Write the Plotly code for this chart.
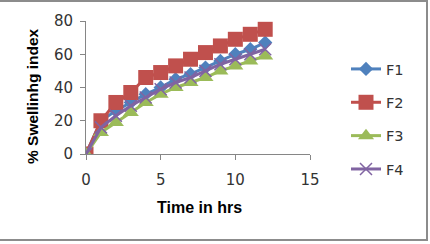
import plotly.graph_objects as go

time_hrs = [0, 1, 2, 3, 4, 5, 6, 7, 8, 9, 10, 11, 12]
f1 = [0, 20, 26, 31, 36, 40, 45, 48, 52, 56, 60, 63, 67]
f2 = [0, 20, 31, 37, 46, 49, 53, 57, 61, 65, 69, 72, 75]
f3 = [0, 13, 19, 25, 31, 36, 40, 43, 46, 50, 53, 56, 59]
f4 = [0, 16, 23, 29, 34, 39, 43, 46, 50, 54, 57, 60, 63]
series_names = ["F1", "F2", "F3", "F4"]
x_ticks = [0, 5, 10, 15]
y_ticks = [0, 20, 40, 60, 80]

colors = ["#4F81BD", "#C0504D", "#9BBB59", "#8064A2"]
symbols = ["diamond", "square", "triangle-up", "x-thin"]
sizes = [11, 15, 14, 12]

fig = go.Figure()
for name, ys, c, s, sz in zip(series_names, [f1, f2, f3, f4], colors, symbols, sizes):
    marker = dict(symbol=s, size=sz, color=c)
    if s == "x-thin":
        marker["line"] = dict(width=1.5, color=c)
    fig.add_trace(go.Scatter(
        x=time_hrs, y=ys, name=name, mode="lines+markers",
        line=dict(color=c, width=3), marker=marker, legendgroup=name,
    ))

L, T, W, H = 86, 21, 224, 133
FW, FH = 430, 244

def px(x):
    return (x - L) / W

def py(y):
    return (T + H - y) / H

axis_color = "#868686"
tick_font = dict(family="DejaVu Sans", size=15, color="#333333")
fig.update_layout(
    width=FW, height=FH,
    margin=dict(l=L, r=FW - L - W, t=T, b=FH - T - H),
    paper_bgcolor="white", plot_bgcolor="white",
    font=dict(family="Liberation Sans", size=16, color="#404040"),
    showlegend=True,
    legend=dict(x=px(346), y=py(53), xanchor="left", yanchor="top",
                font=dict(family="DejaVu Sans", size=14.5, color="#333333"), tracegroupgap=11.5,
                maxheight=400, bgcolor="rgba(0,0,0,0)"),
    xaxis=dict(range=[0, 15], tickvals=x_ticks, showgrid=False, zeroline=False,
               showline=True, linecolor=axis_color, linewidth=1,
               ticks="outside", ticklen=5, tickcolor=axis_color,
               ticklabelstandoff=7, tickfont=tick_font),
    yaxis=dict(range=[0, 80], tickvals=y_ticks, showgrid=False, zeroline=False,
               showline=True, linecolor=axis_color, linewidth=1,
               ticks="outside", ticklen=5, tickcolor=axis_color,
               ticklabelstandoff=4, tickfont=tick_font),
    annotations=[
        dict(text="<b>% Swellinhg index</b>", x=px(32), y=py(96), xref="paper", yref="paper",
             xanchor="center", yanchor="middle",
             textangle=-90, showarrow=False, font=dict(size=15.5, color="#000000")),
        dict(text="<b>Time in hrs</b>", x=px(199), y=py(208), xref="paper", yref="paper",
             xanchor="center", yanchor="middle",
             showarrow=False, font=dict(size=16, color="#000000")),
    ],
    shapes=[
        dict(type="rect", xref="paper", yref="paper",
             x0=px(-5), x1=px(427), y0=py(240), y1=py(1),
             line=dict(color="#8c8c8c", width=2), fillcolor="rgba(0,0,0,0)", layer="below"),
    ],
)

fig.write_html("out.html")
